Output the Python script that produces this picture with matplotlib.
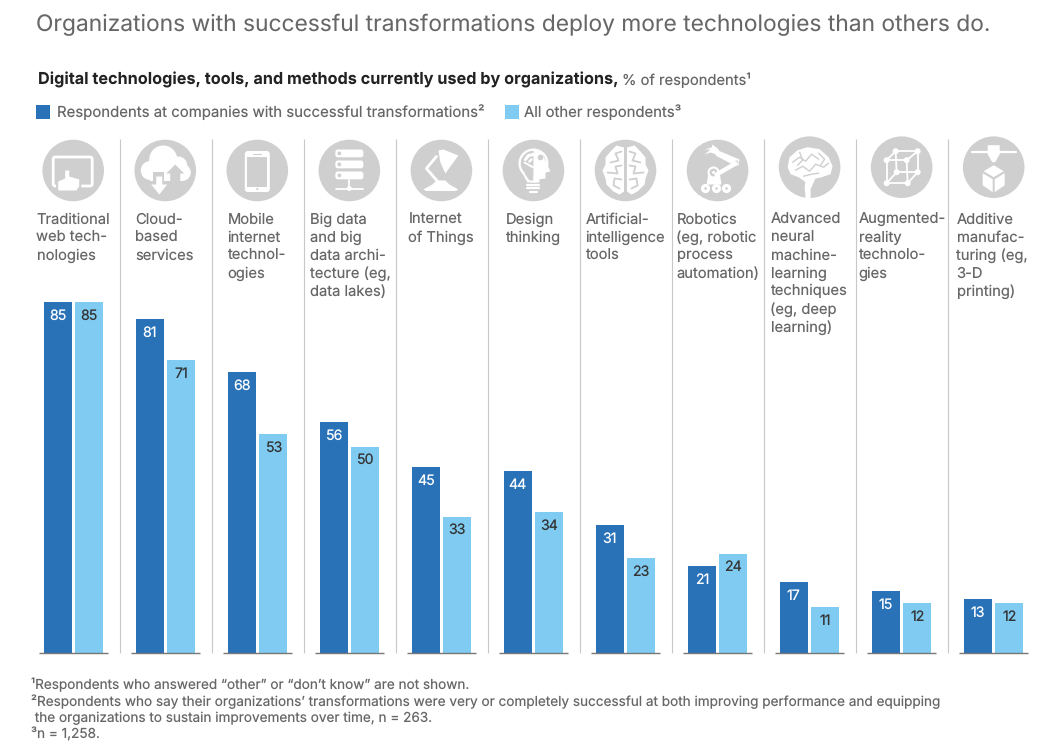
import numpy as np
import matplotlib
matplotlib.use('Agg')
import matplotlib.pyplot as plt
from matplotlib.patches import Circle, Rectangle, Polygon, FancyBboxPatch

W, H = 1053, 746
DARK = '#2a72b8'
LIGHT = '#7fcbf1'
GREY = '#cfcfcf'
TEXT = '#676767'

title = 'Organizations with successful transformations deploy more technologies than others do.'
subtitle_bold = 'Digital technologies, tools, and methods currently used by organizations,'
subtitle_rest = '% of respondents¹'
legend_names = ['Respondents at companies with successful transformations²', 'All other respondents³']

categories = [
    'Traditional\nweb tech-\nnologies',
    'Cloud-\nbased\nservices',
    'Mobile\ninternet\ntechnol-\nogies',
    'Big data\nand big\ndata archi-\ntecture (eg,\ndata lakes)',
    'Internet\nof Things',
    'Design\nthinking',
    'Artificial-\nintelligence\ntools',
    'Robotics\n(eg, robotic\nprocess\nautomation)',
    'Advanced\nneural\nmachine-\nlearning\ntechniques\n(eg, deep\nlearning)',
    'Augmented-\nreality\ntechnolo-\ngies',
    'Additive\nmanufac-\nturing (eg,\n3-D\nprinting)',
]
label_x = [36.5, 135.5, 227.5, 309.5, 408.5, 505.5, 585.5, 676.5, 770.5, 858.5, 956.5]
successful = [85, 81, 68, 56, 45, 44, 31, 21, 17, 15, 13]
others = [85, 71, 53, 50, 33, 34, 23, 24, 11, 12, 12]

footnotes = [
    '¹Respondents who answered “other” or “don’t know” are not shown.',
    '²Respondents who say their organizations’ transformations were very or completely successful at both improving performance and equipping',
    ' the organizations to sustain improvements over time, n = 263.',
    '³n = 1,258.',
]

plt.rcParams['font.family'] = ['Inter', 'Liberation Sans', 'DejaVu Sans']
plt.rcParams['text.hinting'] = 'none'

fig = plt.figure(figsize=(W / 100, H / 100), dpi=100)

# bars live in their own axes, baseline at y=652.5px and 4.118 px per percent
base_px = 652.5
top_px = 252.5
ax = fig.add_axes([0, 1 - base_px / H, 1, (base_px - top_px) / H])
ax.set_xlim(-73.5 / 92, (W - 73.5) / 92)
ax.set_ylim(0, (base_px - top_px) / 4.118)
ax.axis('off')

xs = np.arange(len(categories))
bars1 = ax.bar(xs - 0.171, successful, width=0.3, color=DARK)
bars2 = ax.bar(xs + 0.171, others, width=0.3, color=LIGHT)
for bars, col in [(bars1, 'white'), (bars2, '#333333')]:
    for b in bars:
        ax.annotate(str(int(b.get_height())), (b.get_x() + b.get_width() / 2, b.get_height()),
                    xytext=(0, -10), textcoords='offset points', ha='center', va='center',
                    fontsize=10.2, color=col)
for x in xs:
    ax.plot([x - 0.375, x + 0.375], [0, 0], color='#777777', lw=1, solid_capstyle='butt', clip_on=False)

# everything else is placed in pixel coordinates
pg = fig.add_axes([0, 0, 1, 1], zorder=3)
pg.set_xlim(0, W)
pg.set_ylim(H, 0)
pg.axis('off')
pg.patch.set_alpha(0)


def off(cx, cy, pts):
    return [(cx + a, cy + b) for a, b in pts]


def line(pts, color='white', lw=1.5):
    pts = np.array(pts, float)
    pg.plot(pts[:, 0], pts[:, 1], color=color, lw=lw, solid_capstyle='round', solid_joinstyle='round')


def poly(pts, color='white', **kw):
    pg.add_patch(Polygon(pts, closed=True, fc=color, ec=kw.get('ec', 'none'), lw=kw.get('lw', 0)))


def dot(cx, cy, r, color='white'):
    pg.add_patch(Circle((cx, cy), r, fc=color, ec='none'))


def rrect(x, y, w, h, r, fc='white', ec='none', lw=0):
    pg.add_patch(FancyBboxPatch((x + r, y + r), w - 2 * r, h - 2 * r, boxstyle='round,pad=%f' % r,
                                fc=fc, ec=ec, lw=lw))


def icon_tablet(cx, cy):
    rrect(cx - 20, cy - 13.5, 39, 29, 2, fc='none', ec='white', lw=2)
    hand = off(cx, cy, [(-15, 20), (-15, 11), (-8, 8), (-8, 0), (-4, 0), (-4, 6), (6, 9), (6, 16), (3, 20)])
    poly(hand, GREY, ec=GREY, lw=3)
    poly(hand)


def icon_cloud(cx, cy):
    for dx, dy, r in [(-15, 0, 9.5), (-2, -11, 14), (13, -5, 9), (17, 2, 8.5)]:
        dot(cx + dx, cy + dy, r)
    pg.add_patch(Rectangle((cx - 15, cy - 4), 32, 14.5, fc='white', ec='none'))
    poly(off(cx, cy, [(10, -6), (19, 3), (15, 3), (15, 10.5), (5, 10.5), (5, 3), (1, 3)]), GREY)
    poly(off(cx, cy, [(-12, 1), (-1, 1), (-1, 11), (-12, 11)]), GREY)
    poly(off(cx, cy, [(-9, 6), (-3, 6), (-3, 14), (2, 14), (-6, 24), (-14, 14), (-9, 14)]))


def icon_phone(cx, cy):
    rrect(cx - 12.5, cy - 19.5, 25, 41, 3)
    pg.add_patch(Rectangle((cx - 10, cy - 14), 20, 30, fc=GREY, ec='none'))
    line([(cx - 4, cy - 17), (cx + 4, cy - 17)], GREY, 0.8)
    dot(cx, cy + 18.5, 1.1, GREY)


def icon_servers(cx, cy):
    for dy in (-21, -10, 1):
        rrect(cx - 14, cy + dy, 28, 7.8, 2.5)
        dot(cx - 10, cy + dy + 3.9, 1.9, GREY)
    line(off(cx, cy, [(0, 9), (0, 18)]), 'white', 1.3)
    line(off(cx, cy, [(-13, 18), (14, 18)]), 'white', 1.3)
    dot(cx, cy + 18, 2.5)


def icon_lamp(cx, cy):
    poly(off(cx, cy, [(-3, -20), (2, -21), (17, -15), (4, 3), (-1, -8)]))
    line(off(cx, cy, [(-5, -14), (-15, -2), (-2, 13)]), 'white', 2)
    poly(off(cx, cy, [(-18, 19), (-9, 14), (-5, 10), (4, 10), (8, 14), (17, 19), (14, 20.5), (-15, 20.5)]))


def icon_bulb(cx, cy):
    dot(cx, cy - 7, 15)
    poly(off(cx, cy, [(-11, 3), (-6, 12), (6, 12), (6, 3)]))
    dot(cx, cy - 7, 12.7, GREY)
    poly(off(cx, cy, [(-9, 3), (-4, 10), (0, 10), (0, -4)]), GREY)
    poly(off(cx, cy, [(0, -21), (8, -18), (12, -10), (17, 1), (12, 2), (12, 8), (4, 9), (3, 12), (0, 12)]))
    dot(cx + 7, cy - 13, 2.8, GREY)
    line(off(cx, cy, [(0, -3), (-9, -8)]), 'white', 1.4)
    line(off(cx, cy, [(-8, -11), (-5, -15), (0, -16)]), 'white', 2.2)
    line(off(cx, cy, [(-4, -9), (-2, -11)]), 'white', 1.8)
    for dy, hw in [(14, 6), (17.5, 6), (21, 3.5)]:
        line(off(cx, cy, [(-hw, dy), (hw, dy)]), 'white', 1.6)


def icon_brain(cx, cy):
    for s in (-1, 1):
        pts = [(1.5, -23), (9, -25), (15, -19), (20, -13), (20, -6), (23, 0), (20, 8), (19, 14),
               (12, 21), (6, 24), (1.5, 21)]
        poly(off(cx, cy, [(s * a, b) for a, b in pts]))
        for sq in ([(4, -19), (10, -17), (7, -10), (15, -8)],
                   [(4, -5), (10, -4), (8, 3), (18, 2)],
                   [(4, 9), (11, 8), (12, 15), (6, 18)]):
            line(off(cx, cy, [(s * a, b) for a, b in sq]), GREY, 1.3)


def icon_robot(cx, cy):
    poly(off(cx, cy, [(-5, -26), (0, -22), (3, -18), (-1, -16), (-7, -18), (-13, -16), (-7, -21),
                      (-13, -21), (-6, -23)]))
    poly(off(cx, cy, [(-1, -19), (3, -19), (22, -11), (21, -5), (17, -5), (-2, -15)]))
    line(off(cx, cy, [(18, -7), (-1, 4)]), 'white', 3.2)
    dot(cx + 19, cy - 8, 2, GREY)
    poly(off(cx, cy, [(-9, 2), (2, 2), (4, 14), (-11, 14)]))
    pg.add_patch(Circle((cx - 4, cy + 2), 5, fc=GREY, ec='white', lw=1.5))
    dot(cx - 4, cy + 2, 1.5)
    for dx in (-12, -1, 9):
        dot(cx + dx, cy + 18, 4.6)
        dot(cx + dx, cy + 18, 1.3, GREY)


def icon_neural(cx, cy):
    poly(off(cx, cy, [(-22, 0), (-20, -10), (-12, -17), (-2, -20), (10, -18), (19, -10), (23, -1),
                      (21, 7), (12, 10), (3, 12), (-4, 15), (-11, 10), (-19, 7)]))
    poly(off(cx, cy, [(-4, 14), (6, 11), (1, 22), (1, 31), (-4, 31), (-5, 20)]))
    for sq in ([(-17, -5), (-10, -10), (-4, -6), (2, -13), (9, -8)],
               [(-14, 3), (-7, -1), (0, 4), (6, -3), (14, 0), (19, -4)],
               [(-6, 9), (2, 7), (9, 6)],
               [(9, -14), (15, -8), (11, -2)],
               [(-10, -15), (-7, -7), (-12, -2)]):
        line(off(cx, cy, sq), GREY, 1)


def icon_cube(cx, cy):
    f = [(-15, -7), (5, -7), (6, 16), (-15, 16)]
    b = [(-6, -16), (16, -16), (16, 5), (-5, 5)]
    for i in range(4):
        line(off(cx, cy, [f[i], f[(i + 1) % 4]]), 'white', 1.3)
        line(off(cx, cy, [b[i], b[(i + 1) % 4]]), 'white', 1.3)
        line(off(cx, cy, [f[i], b[i]]), 'white', 1.3)
    for p in f + b:
        dot(cx + p[0], cy + p[1], 3)


def icon_printer(cx, cy):
    line(off(cx, cy, [(-22, -15.5), (22, -15.5)]), 'white', 1.6)
    poly(off(cx, cy, [(-6, -22), (6, -22), (6, -13), (1.5, -5), (-1.5, -5), (-6, -13)]))
    poly(off(cx, cy, [(0, -2), (10, 4), (0, 10), (-10, 4)]))
    poly(off(cx, cy, [(-11, 6), (-1, 12), (-1, 25), (-11, 18)]))
    poly(off(cx, cy, [(11, 6), (1, 12), (1, 25), (11, 18)]))


icons = [icon_tablet, icon_cloud, icon_phone, icon_servers, icon_lamp, icon_bulb,
         icon_brain, icon_robot, icon_neural, icon_cube, icon_printer]
for i, draw in enumerate(icons):
    cx = 73.2 + 92.05 * i
    cy = 167.2 if i >= 8 else 170.5
    dot(cx, cy, 30.8, GREY)
    draw(cx, cy)

# separators between the columns
for i in range(10):
    x = 119.5 + 92 * i
    pg.plot([x, x], [139, 652.5], color='#c8c8c8', lw=0.8, solid_capstyle='butt')

for x, s in zip(label_x, categories):
    for j, row in enumerate(s.split('\n')):
        pg.text(x, 223.5 + 18 * j, row, fontsize=10.6, color=TEXT, va='baseline', ha='left')

pg.text(36, 31, title, fontsize=16.4, color=TEXT, va='baseline', ha='left')
pg.text(38, 84.5, subtitle_bold, fontsize=11.7, color='#222222', weight='bold', va='baseline', ha='left')
pg.text(622, 84.5, subtitle_rest, fontsize=10.6, color=TEXT, va='baseline', ha='left')

pg.add_patch(Rectangle((36, 105), 14, 14, fc=DARK, ec='none'))
pg.text(57, 117, legend_names[0], fontsize=10.75, color=TEXT, va='baseline', ha='left')
pg.add_patch(Rectangle((505, 105), 14, 14, fc=LIGHT, ec='none'))
pg.text(524, 117, legend_names[1], fontsize=10.7, color=TEXT, va='baseline', ha='left')

for y, s in zip([689.5, 706, 722.5, 738.5], footnotes):
    pg.text(31, y, s, fontsize=9.78, color=TEXT, va='baseline', ha='left')

fig.savefig('out.png', dpi=100)
